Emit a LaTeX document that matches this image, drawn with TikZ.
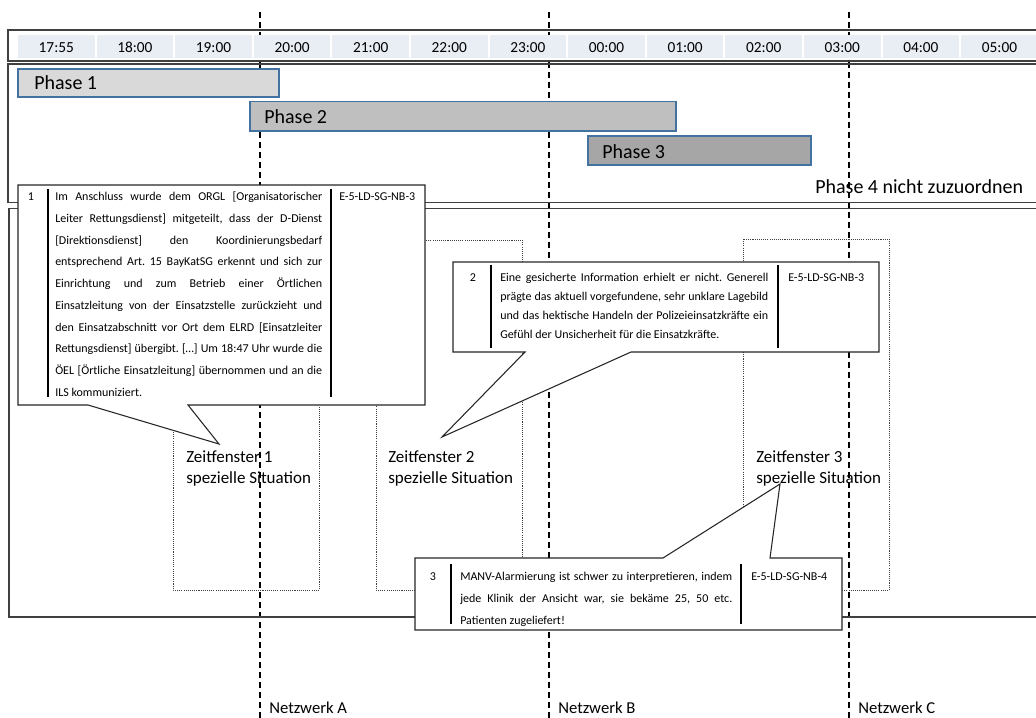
\documentclass[tikz,border=0pt]{standalone}
\usepackage{fontspec}
\setmainfont{Carlito}
\frenchspacing
\definecolor{cellfill}{RGB}{233,237,244}
\definecolor{phaseborder}{RGB}{68,114,160}
\definecolor{phA}{RGB}{217,217,217}
\definecolor{phB}{RGB}{191,191,191}
\definecolor{phC}{RGB}{166,166,166}
\definecolor{framecol}{RGB}{64,64,64}
\newcommand{\jrow}[2]{\hbox to #1{#2}}
\tikzset{
  netline/.style={line width=1.3pt, dash pattern=on 4.5pt off 3pt},
  frameline/.style={draw=framecol, line width=1.1pt},
  celltext/.style={font=\fontsize{11.5}{13}\selectfont, inner sep=0pt},
  phasebar/.style={draw=phaseborder, line width=0.8pt},
  phasetext/.style={font=\fontsize{15}{18}\selectfont, anchor=west, inner sep=0pt},
  zfbox/.style={draw=black!75, line width=0.6pt, dash pattern=on 0.8pt off 0.8pt},
  zftext/.style={font=\fontsize{12.75}{15.75}\selectfont, anchor=base west, inner sep=0pt},
  callout/.style={draw=black!85, fill=white, line width=0.8pt, line join=miter},
  sepline/.style={line width=1.5pt},
  conum/.style={font=\fontsize{9}{11}\selectfont, inner sep=0pt, anchor=base},
  coid/.style={font=\fontsize{9}{11}\selectfont, inner sep=0pt, anchor=base west},
  cotext/.style={inner sep=0pt, anchor=base west},
  nettext/.style={font=\fontsize{12.5}{15}\selectfont, anchor=base west, inner sep=0pt},
}
\begin{document}
\begin{tikzpicture}[x=0.75pt,y=-0.75pt]
\useasboundingbox (0,0) rectangle (1036,718);

% network dashed lines
\coordinate (nAt) at (260,12); \coordinate (nAb) at (260,718);
\coordinate (nBt) at (549,12); \coordinate (nBb) at (549,718);
\coordinate (nCt) at (849,12); \coordinate (nCb) at (849,718);
\draw[netline] (nAt) -- (nAb);
\draw[netline] (nBt) -- (nBb);
\draw[netline] (nCt) -- (nCb);

% frames
\draw[frameline] (1037,30) -- (8,30) -- (8,61) -- (1037,61);
\draw[frameline] (1037,64) -- (8,64) -- (8,202.5) -- (1037,202.5);
\draw[frameline] (1037,208.5) -- (9,208.5) -- (9,617) -- (1037,617);

% timeline cells
\foreach \i/\t in {0/17:55,1/18:00,2/19:00,3/20:00,4/21:00,5/22:00,6/23:00,7/00:00,8/01:00,9/02:00,10/03:00,11/04:00,12/05:00}{
  \pgfmathsetmacro{\xa}{17+78.6*\i}
  \fill[cellfill] (\xa+1,35) rectangle (\xa+77.6,58);
  \node[celltext] (time\i) at (\xa+39.3,47.5) {\t};
}

% phases
\draw[phasebar, fill=phA] (18,69) rectangle (279,97);
\draw[phasebar, fill=phB] (250,101.5) rectangle (676,131);
\draw[phasebar, fill=phC] (588,136) rectangle (811,165);
\node[phasetext] (p1) at (34,83) {Phase 1};
\node[phasetext] (p2) at (264,117) {Phase 2};
\node[phasetext] (p3) at (602,152) {Phase 3};
\node[phasetext] (p4) at (815,186.5) {Phase 4 nicht zuzuordnen};

% Zeitfenster boxes
\draw[zfbox] (173,240) rectangle (319,590);
\draw[zfbox] (376,240) rectangle (522,590);
\draw[zfbox] (743,239) rectangle (889,590);
\node[zftext] (zf1) at (186,462) {\vtop{\hbox{Zeitfenster 1}\hbox{spezielle Situation}}};
\node[zftext] (zf2) at (388,462) {\vtop{\hbox{Zeitfenster 2}\hbox{spezielle Situation}}};
\node[zftext] (zf3) at (756,462) {\vtop{\hbox{Zeitfenster 3}\hbox{spezielle Situation}}};

% Callout 1
\draw[callout] (18,185) -- (425,185) -- (425,405) -- (188,405) -- (219,444) -- (88,405) -- (18,405) -- cycle;
\draw[sepline] (48,189) -- (48,397);
\draw[sepline] (331,189) -- (331,397);
\node[conum] (n1) at (31,200.5) {1};
\node[coid] (id1) at (339,200.5) {E-5-LD-SG-NB-3};
\node[cotext] (t1) at (55,200.5) {\fontsize{9}{16.33}\selectfont\vtop{%
\jrow{200.25pt}{Im Anschluss wurde dem ORGL [Organisatorischer}
\jrow{200.25pt}{Leiter Rettungsdienst] mitgeteilt, dass der D-Dienst}
\jrow{200.25pt}{[Direktionsdienst] \hfil den \hfil Koordinierungsbedarf}
\jrow{200.25pt}{entsprechend Art. 15 BayKatSG erkennt und sich zur}
\jrow{200.25pt}{Einrichtung und zum Betrieb einer Örtlichen}
\jrow{200.25pt}{Einsatzleitung von der Einsatzstelle zurückzieht und}
\jrow{200.25pt}{den Einsatzabschnitt vor Ort dem ELRD [Einsatzleiter}
\jrow{200.25pt}{Rettungsdienst] übergibt. […] Um 18:47 Uhr wurde die}
\jrow{200.25pt}{ÖEL [Örtliche Einsatzleitung] übernommen und an die}
\hbox{ILS kommuniziert.}}};

% Callout 2
\draw[callout] (453,262) -- (879,262) -- (879,352) -- (631,352) -- (442,437) -- (525,352) -- (453,352) -- cycle;
\draw[sepline] (491,265) -- (491,348);
\draw[sepline] (778,265) -- (778,348);
\node[conum] (n2) at (473,281.5) {2};
\node[coid] (id2) at (788,281.5) {E-5-LD-SG-NB-3};
\node[cotext] (t2) at (500,281.5) {\fontsize{9}{14.25}\selectfont\vtop{%
\jrow{201pt}{Eine gesicherte Information erhielt er nicht. Generell}
\jrow{201pt}{prägte das aktuell vorgefundene, sehr unklare Lagebild}
\jrow{201pt}{und das hektische Handeln der Polizeieinsatzkräfte ein}
\hbox{Gefühl der Unsicherheit für die Einsatzkräfte.}}};

% Callout 3
\draw[callout] (415,558) -- (663,558) -- (780,484) -- (770,558) -- (842,558) -- (842,630) -- (415,630) -- cycle;
\draw[sepline] (451,564) -- (451,624);
\draw[sepline] (741,564) -- (741,624);
\node[conum] (n3) at (433,580.5) {3};
\node[coid] (id3) at (751,580.5) {E-5-LD-SG-NB-4};
\node[cotext] (t3) at (460,580.5) {\fontsize{9}{16.5}\selectfont\vtop{%
\jrow{204pt}{MANV-Alarmierung ist schwer zu interpretieren, indem}
\jrow{204pt}{jede Klinik der Ansicht war, sie bekäme 25, 50 etc.}
\hbox{Patienten zugeliefert!}}};

% network labels
\node[nettext] (labA) at (269,713) {Netzwerk A};
\node[nettext] (labB) at (558,713) {Netzwerk B};
\node[nettext] (labC) at (858,713) {Netzwerk C};
\end{tikzpicture}
\end{document}
